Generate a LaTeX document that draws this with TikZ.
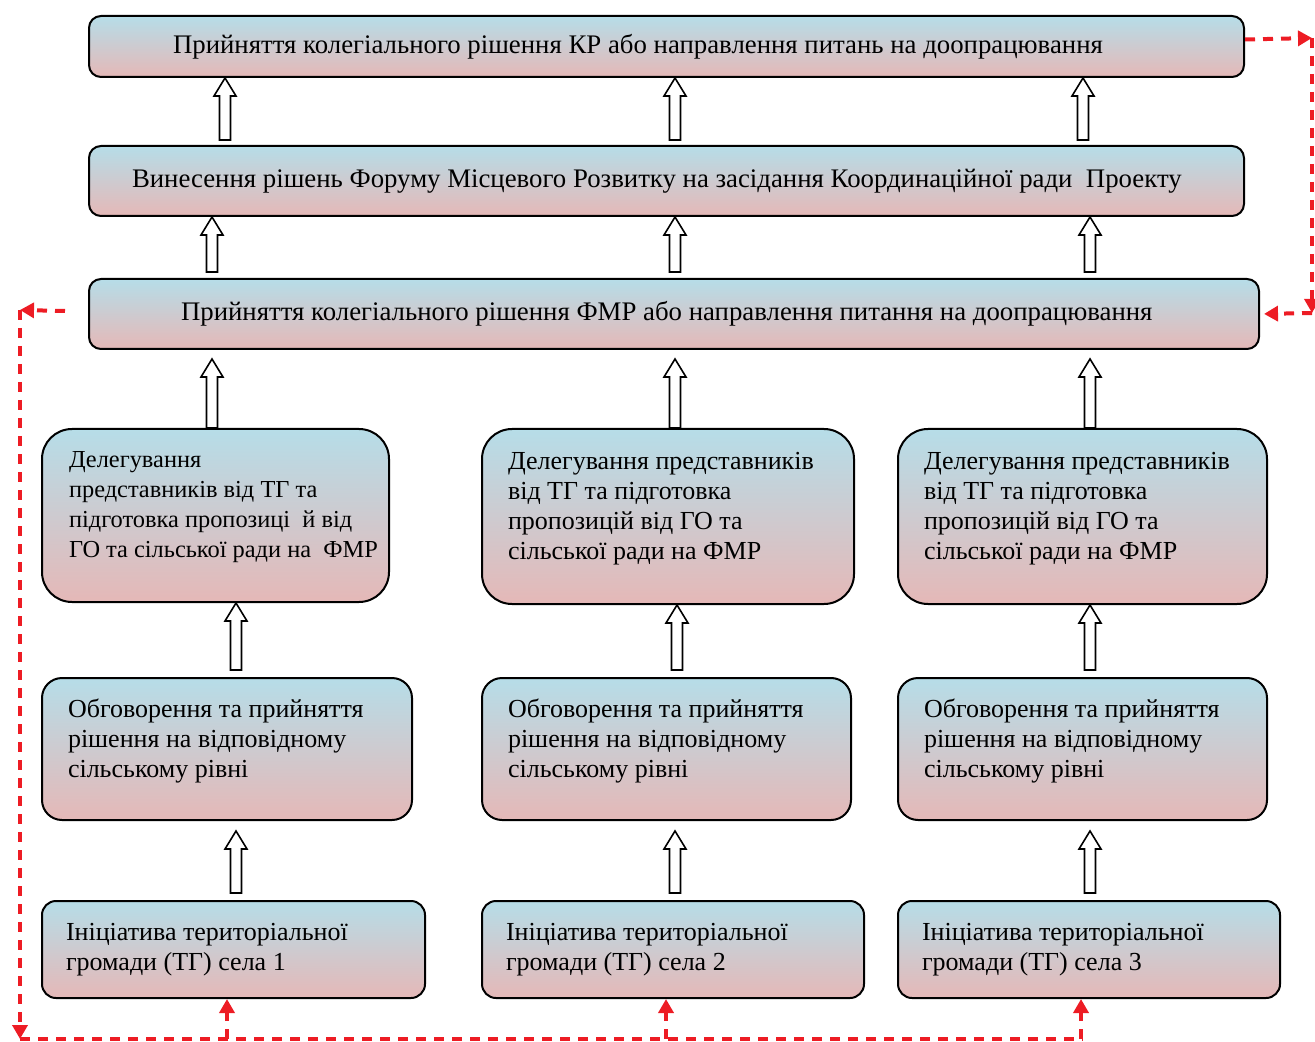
\documentclass[tikz,border=0pt]{standalone}
\usepackage{fontspec}
\setmainfont{Liberation Serif}
\usetikzlibrary{arrows.meta,%
                calc,positioning}

\definecolor{boxtop}{RGB}{182,221,232}
\definecolor{boxbot}{RGB}{229,184,183}
\definecolor{fbred}{RGB}{237,28,36}

\begin{document}
\begin{tikzpicture}[x=0.5pt,y=-0.5pt,
  box/.style={draw=black,line width=1pt,top color=boxtop,bottom color=boxbot,
    anchor=north west,align=flush left,font=\fontsize{13}{15}\selectfont},
  wide/.style={box,rounded corners=6pt,font=\fontsize{13.4}{15}\selectfont},
  dbox/.style={box,inner xsep=13pt,execute at end node={\rule[-10.5pt]{0pt}{10.5pt}}},
  ibox/.style={box,inner xsep=12pt,rounded corners=7pt,minimum height=48.5pt},
  hollow/.style={draw=black,fill=white,line width=0.8pt,
    to path={let \p1=(\tikztostart),\p2=(\tikztotarget) in
      (\x1-2.75pt,\y1) -- (\x1-2.75pt,\y2-9pt) -- (\x1-5.5pt,\y2-9pt) -- (\x2,\y2)
      -- (\x1+5.5pt,\y2-9pt) -- (\x1+2.75pt,\y2-9pt) -- (\x1+2.75pt,\y1) -- cycle}},
  fb/.style={draw=fbred,line width=2pt,dash pattern=on 5pt off 4pt,
    -{Triangle[length=7pt,width=7.5pt]}}]
\useasboundingbox (0,0) rectangle (1315,1042);

\node[wide,minimum height=30.5pt,inner xsep=42pt,text width=493.5pt] (kr) at (88,15)
  {Прийняття колегіального рішення КР або направлення питань на доопрацювання};
\node[wide,minimum height=35pt,inner xsep=21.5pt,text width=534.5pt] (vyn) at (88,145)
  {Винесення рішень Форуму Місцевого Розвитку на засідання Координаційної ради~ Проекту};
\node[wide,minimum height=35pt,inner xsep=46pt,text width=493pt] (fmr) at (88,278)
  {Прийняття колегіального рішення ФМР або направлення питання на доопрацювання};

\node[dbox,rounded corners=15pt,minimum height=86.5pt,inner xsep=13.5pt,text width=146.5pt,
  font=\fontsize{12.2}{15}\selectfont] (d1) at (41,428)
  {Делегування\\ представників від ТГ та\\ \mbox{підготовка пропозиці~ й від}\\ \mbox{ГО та сільської ради на~ ФМР}};
\node[dbox,rounded corners=15pt,minimum height=87.5pt,text width=160pt] (d2) at (481,428)
  {Делегування представників\\ від ТГ та підготовка\\ пропозицій від ГО та\\ сільської ради на ФМР};
\node[dbox,rounded corners=15pt,minimum height=87.5pt,text width=158.5pt] (d3) at (897,428)
  {Делегування представників\\ від ТГ та підготовка\\ пропозицій від ГО та\\ сільської ради на ФМР};

\node[dbox,rounded corners=10pt,minimum height=71pt,text width=159pt] (o1) at (41,677)
  {Обговорення та прийняття\\ рішення на відповідному\\ сільському рівні};
\node[dbox,rounded corners=10pt,minimum height=71pt,text width=158.5pt] (o2) at (481,677)
  {Обговорення та прийняття\\ рішення на відповідному\\ сільському рівні};
\node[dbox,rounded corners=10pt,minimum height=71pt,text width=158.5pt] (o3) at (897,677)
  {Обговорення та прийняття\\ рішення на відповідному\\ сільському рівні};

\node[ibox,text width=167.5pt] (i1) at (41,900) {Ініціатива територіальної\\ громади (ТГ) села 1};
\node[ibox,text width=167pt] (i2) at (481,900) {Ініціатива територіальної\\ громади (ТГ) села 2};
\node[ibox,text width=167pt] (i3) at (897,900) {Ініціатива територіальної\\ громади (ТГ) села 3};

% hollow arrows
\foreach \ax in {225,675,1083}
  \draw[hollow] ($(\ax,0 |- vyn.north)+(0,-5)$) to (\ax,0 |- kr.south);
\foreach \ax in {212,675,1090}
  \draw[hollow] ($(\ax,0 |- fmr.north)+(0,-6)$) to (\ax,0 |- vyn.south);
\foreach \ax/\low in {212/d1,675/d2,1090/d3}
  \draw[hollow] (\ax,0 |- \low.north) to ($(\ax,0 |- fmr.south)+(0,9)$);
\foreach \ax/\low/\upp in {236/o1/d1,677/o2/d2,1090/o3/d3}
  \draw[hollow] ($(\ax,0 |- \low.north)+(0,-7)$) to (\ax,0 |- \upp.south);
\foreach \ax/\low/\upp in {236/i1/o1,675/i2/o2,1090/i3/o3}
  \draw[hollow] ($(\ax,0 |- \low.north)+(0,-7)$) to ($(\ax,0 |- \upp.south)+(0,10)$);

% feedback
\coordinate (ne) at (1312,38);
\coordinate (se) at (1312,313);
\coordinate (nw) at (20,310);
\coordinate (sw) at (20,1039);
\coordinate (sb) at (1083,1039);
\draw[fb] ($(kr.east)+(0,-7)$) -- (ne);
\draw[fb] (ne) -- (se);
\draw[fb,shorten >=2pt] (se) -- (fmr.east);
\draw[fb] ($(fmr.west)+(-23,-3)$) -- (nw);
\draw[fb] (nw) -- (sw);
\draw[fb,-] (sw) -- (sb);
\foreach \ax/\ini in {227/i1,666/i2,1081/i3}
  \draw[fb] (\ax,0 |- sw) -- (\ax,0 |- \ini.south);
\end{tikzpicture}
\end{document}
